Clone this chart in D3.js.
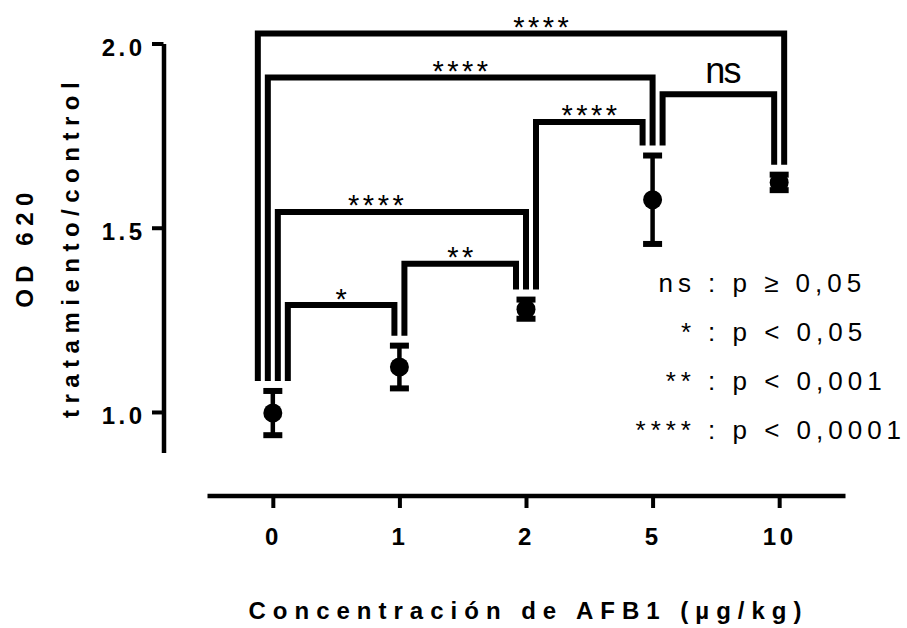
<!DOCTYPE html>
<html>
<head>
<meta charset="utf-8">
<script src="https://cdn.jsdelivr.net/npm/d3@7"></script>
<style>
body { margin: 0; background: #fff; }
text { font-family: "Liberation Sans", Arial, sans-serif; fill: #000; }
</style>
</head>
<body>
<div id="chart"></div>
<script>
// values
var doses = ["0", "1", "2", "5", "10"];
var means = [0.997, 1.122, 1.279, 1.576, 1.623];
var errs = [0.06, 0.058, 0.026, 0.12, 0.021];
var yTicks = [1.0, 1.5, 2.0];

// pairwise comparisons (indexes into doses) and bracket heights in OD units
var cmpFrom = [0, 1, 0, 2, 0, 3, 0];
var cmpTo = [1, 2, 2, 3, 3, 4, 4];
var cmpLevel = [1.290, 1.402, 1.543, 1.787, 1.908, 1.862, 2.027];
var cmpLabel = ["*", "**", "****", "****", "****", "ns", "****"];

var legendSym = ["ns", "*", "**", "****"];
var legendText = [": p \u2265 0,05", ": p < 0,05", ": p < 0,001", ": p < 0,0001"];

var svgWidth = 907;
var svgHeight = 628;

var svg = d3.select("#chart")
    .append("svg")
    .attr("width", svgWidth)
    .attr("height", svgHeight);

//scales
var x = d3.scalePoint().domain(doses).range([207, 845]).padding(0.52);
var y = d3.scaleLinear().domain([0.89, 2.0]).range([452.5, 43.5]);

//y axis
var yAxis = svg.append("g")
    .attr("transform", "translate(163.5,0)")
    .attr("font-size", null).attr("font-family", null)
    .call(d3.axisLeft(y).tickValues(yTicks).tickSize(11.5).tickSizeOuter(0).tickFormat(d3.format(".1f")));
yAxis.select(".domain").attr("stroke-width", 4.5);
yAxis.selectAll(".tick line").attr("stroke-width", 4);
yAxis.selectAll(".tick text")
    .attr("x", -18)
    .attr("dy", 11.5)
    .style("font-size", "24px")
    .style("font-weight", "bold")
    .style("letter-spacing", "3.5px");

//x axis
var xAxis = svg.append("g")
    .attr("transform", "translate(0,495.5)")
    .attr("font-size", null).attr("font-family", null)
    .call(d3.axisBottom(x).tickSize(12.5).tickSizeOuter(0));
xAxis.select(".domain").attr("stroke-width", 4.5);
xAxis.selectAll(".tick line").attr("stroke-width", 4);
xAxis.selectAll(".tick text")
    .attr("y", 49.5)
    .attr("dy", 0)
    .style("font-size", "24px")
    .style("font-weight", "bold")
    .style("letter-spacing", "3.5px");

//axis titles
svg.append("text")
    .attr("x", 528.5)
    .attr("y", 619)
    .attr("text-anchor", "middle")
    .style("font-size", "24px")
    .style("font-weight", "bold")
    .style("letter-spacing", "7px")
    .text("Concentración de AFB1 (\u00b5g/kg)");

svg.append("text")
    .attr("transform", "translate(33,247) rotate(-90)")
    .attr("text-anchor", "middle")
    .style("font-size", "24px")
    .style("font-weight", "bold")
    .style("letter-spacing", "6.5px")
    .text("OD 620");

svg.append("text")
    .attr("transform", "translate(79,247) rotate(-90)")
    .attr("text-anchor", "middle")
    .style("font-size", "24px")
    .style("font-weight", "bold")
    .style("letter-spacing", "6.5px")
    .text("tratamiento/control");

//error bars + points
var pts = svg.append("g");
doses.forEach(function (d, i) {
    var cx = x(d);
    var top = y(means[i] + errs[i]);
    var bot = y(means[i] - errs[i]);
    pts.append("line")
        .attr("x1", cx).attr("x2", cx)
        .attr("y1", top).attr("y2", bot)
        .attr("stroke", "#000").attr("stroke-width", 4.5);
    [top, bot].forEach(function (yy) {
        pts.append("line")
            .attr("x1", cx - 9.5).attr("x2", cx + 9.5)
            .attr("y1", yy).attr("y2", yy)
            .attr("stroke", "#000").attr("stroke-width", 6);
    });
    pts.append("circle")
        .attr("cx", cx)
        .attr("cy", y(means[i]))
        .attr("r", 9.5)
        .attr("fill", "#000");
});

//bracket legs: incoming ones (short first) then outgoing ones (long first)
var legX = {};
doses.forEach(function (d, i) {
    var idx = cmpFrom.map(function (v, c) { return c; });
    var incoming = idx.filter(function (c) { return cmpTo[c] === i; })
        .sort(function (a, b) { return (cmpTo[a] - cmpFrom[a]) - (cmpTo[b] - cmpFrom[b]); });
    var outgoing = idx.filter(function (c) { return cmpFrom[c] === i; })
        .sort(function (a, b) { return (cmpTo[b] - cmpFrom[b]) - (cmpTo[a] - cmpFrom[a]); });
    var legs = incoming.concat(outgoing);
    legs.forEach(function (c, k) {
        legX[c + "-" + i] = x(d) + (k - (legs.length - 1) / 2) * 10;
    });
});

function legBottom(i) {
    return y(means[i] + errs[i]) - 3 - 7;
}

var labelNudge = [0, 0, -26, 0, 0, 5, 20];
var brackets = svg.append("g");
cmpLabel.forEach(function (lab, c) {
    var a = cmpFrom[c], b = cmpTo[c];
    var xa = legX[c + "-" + a], xb = legX[c + "-" + b];
    var yl = y(cmpLevel[c]);
    brackets.append("path")
        .attr("d", "M" + xa + "," + legBottom(a) + "V" + yl + "H" + xb + "V" + legBottom(b))
        .attr("fill", "none")
        .attr("stroke", "#000")
        .attr("stroke-width", 6)
        .attr("stroke-linejoin", "miter");
    var t = brackets.append("text")
        .attr("x", (xa + xb) / 2 + labelNudge[c])
        .attr("text-anchor", "middle")
        .text(lab);
    if (lab === "ns") {
        t.attr("y", yl - 11.5).style("font-size", "36px").style("letter-spacing", "-2px").attr("dx", -1);
    } else {
        t.attr("y", yl + 3.5).style("font-size", "29px").style("letter-spacing", "3.5px").attr("dx", 1.75);
    }
});

//legend
var legend = svg.append("g");
legendSym.forEach(function (s, i) {
    var yy = 292 + i * 49;
    legend.append("text")
        .attr("x", 696).attr("y", yy)
        .attr("text-anchor", "end")
        .style("font-size", "26px")
        .style("letter-spacing", "5px")
        .text(s);
    legend.append("text")
        .attr("x", 708).attr("y", yy)
        .style("font-size", "26px")
        .style("letter-spacing", "5px")
        .text(legendText[i]);
});
</script>
</body>
</html>
